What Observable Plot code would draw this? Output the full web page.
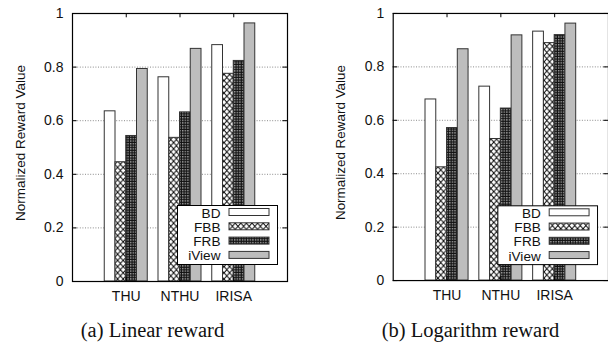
<!DOCTYPE html>
<html><head><meta charset="utf-8">
<script src="https://cdn.jsdelivr.net/npm/d3@7"></script>
<script src="https://cdn.jsdelivr.net/npm/@observablehq/plot@0.6"></script>
<style>
html,body{margin:0;padding:0;background:#fff;overflow:hidden;}
#wrap{position:relative;width:608px;height:342px;overflow:hidden;}
.panel{position:absolute;top:0;}
.cap{position:absolute;top:320px;height:20px;line-height:20px;font-family:"Liberation Serif","Times New Roman",serif;font-size:20.5px;white-space:nowrap;transform:translateX(-50%);color:#111;}
</style></head><body><div id="wrap"></div>
<script>
// ---- data ----
const groups = ["THU", "NTHU", "IRISA"];
const seriesNames = ["BD", "FBB", "FRB", "iView"];
// (a) Linear reward
const linearBD    = [0.635, 0.762, 0.882];
const linearFBB   = [0.445, 0.536, 0.775];
const linearFRB   = [0.543, 0.631, 0.823];
const linearIView = [0.793, 0.868, 0.963];
// (b) Logarithm reward
const logBD    = [0.678, 0.726, 0.932];
const logFBB   = [0.424, 0.530, 0.889];
const logFRB   = [0.571, 0.644, 0.919];
const logIView = [0.866, 0.918, 0.962];
const yTicks = [0, 0.2, 0.4, 0.6, 0.8, 1];
const yTickLabels = ["0", "0.2", "0.4", "0.6", "0.8", "1"];
const gridVals = [0.2, 0.4, 0.6, 0.8];
const yLabel = "Normalized Reward Value";
const captions = ["(a) Linear reward", "(b) Logarithm reward"];

const wrap = document.getElementById("wrap");

function makePanel(id, seriesValues, opts) {
  const fills = ["white", `url(#fbb${id})`, `url(#frb${id})`, "#bdbdbd"];
  const rows = [];
  seriesValues.forEach((vals, s) => {
    vals.forEach((v, g) => rows.push({series: seriesNames[s], s, g, value: v}));
  });
  const barMarks = seriesNames.map((name, s) =>
    Plot.rect(rows.filter(r => r.s === s), {
      x1: r => r.g + 1 + (r.s - 2) * 0.2,
      x2: r => r.g + 1 + (r.s - 1) * 0.2,
      y1: 0,
      y2: "value",
      fill: fills[s],
      stroke: "#333",
      strokeWidth: 1
    })
  );
  const xIdx = groups.map((d, i) => i + 1);
  const chart = Plot.plot({
    width: opts.width,
    height: 310,
    marginLeft: opts.marginLeft,
    marginRight: opts.marginRight,
    marginTop: 13,
    marginBottom: 29,
    style: {fontFamily: "'Liberation Sans', Arial, sans-serif", fontSize: "14px", color: "#111", background: "white"},
    x: {domain: [0, 4]},
    y: {domain: [0, 1]},
    marks: [
      Plot.ruleY(gridVals, {stroke: "#8a8a8a", strokeDasharray: "1,1.6", strokeWidth: 1}),
      ...barMarks,
      Plot.ruleY(yTicks, {x1: 0, x2: 0.085, stroke: "black"}),
      Plot.ruleY(yTicks, {x1: 3.915, x2: 4, stroke: "black"}),
      Plot.ruleX(xIdx, {y1: 0.984, y2: 1, stroke: "black"}),
      Plot.ruleX(xIdx, {y1: 0, y2: 0.016, stroke: "black"}),
      Plot.axisY(yTicks, {tickSize: 0, tickPadding: 9, tickFormat: (d, i) => yTickLabels[i], fontSize: 14, label: null}),
      Plot.axisX(xIdx, {tickSize: 0, tickPadding: 10, tickFormat: d => groups[d - 1], fontSize: 14, label: null}),
      Plot.frame({stroke: "black", strokeWidth: 1.2})
    ]
  });
  const svg = d3.select(chart);
  const defs = svg.insert("defs", ":first-child");
  const p1 = defs.append("pattern").attr("id", `fbb${id}`).attr("patternUnits", "userSpaceOnUse")
    .attr("width", 5.6).attr("height", 6.2);
  p1.append("rect").attr("width", 5.6).attr("height", 6.2).attr("fill", "white");
  p1.append("path").attr("d", "M0,0L5.6,6.2M5.6,0L0,6.2").attr("stroke", "black").attr("stroke-width", 1).attr("fill", "none");
  const p2 = defs.append("pattern").attr("id", `frb${id}`).attr("patternUnits", "userSpaceOnUse")
    .attr("width", 2.6).attr("height", 2.6);
  p2.append("rect").attr("width", 2.6).attr("height", 2.6).attr("fill", "#111");
  p2.append("rect").attr("x", 0.2).attr("y", 0.2).attr("width", 1.1).attr("height", 1.1).attr("fill", "white");

  // y label
  svg.append("text").attr("transform", `translate(${opts.labelX},143) rotate(-90)`)
    .attr("text-anchor", "middle").attr("font-size", 13.5).attr("fill", "#111").text(yLabel);

  // legend
  const bx = opts.marginLeft + 105, by = opts.legendY;
  const lg = svg.append("g");
  lg.append("rect").attr("x", bx + 0.5).attr("y", by + 0.5).attr("width", 100).attr("height", 59)
    .attr("fill", "white").attr("stroke", "black");
  seriesNames.forEach((name, s) => {
    lg.append("text").attr("x", bx + 43.5).attr("y", by + 12.5 + s * 14.3)
      .attr("text-anchor", "end").attr("font-size", 13.6).attr("fill", "#111").text(name);
    lg.append("rect").attr("x", bx + 52).attr("y", by + 3.5 + s * 14.3).attr("width", 40).attr("height", 7)
      .attr("fill", fills[s]).attr("stroke", "#333");
  });

  const div = document.createElement("div");
  div.className = "panel";
  div.style.left = opts.left + "px";
  div.appendChild(chart);
  wrap.appendChild(div);

  const cap = document.createElement("div");
  cap.className = "cap";
  cap.style.left = opts.capX + "px";
  cap.textContent = opts.caption;
  wrap.appendChild(cap);
}

makePanel("A", [linearBD, linearFBB, linearFRB, linearIView],
  {width: 304, marginLeft: 72, marginRight: 17, left: 0, labelX: 25, legendY: 205, capX: 152.5, caption: captions[0]});
makePanel("B", [logBD, logFBB, logFRB, logIView],
  {width: 305, marginLeft: 89, marginRight: 0, left: 304, labelX: 41, legendY: 206, capX: 470.5, caption: captions[1]});
</script>
</body></html>
